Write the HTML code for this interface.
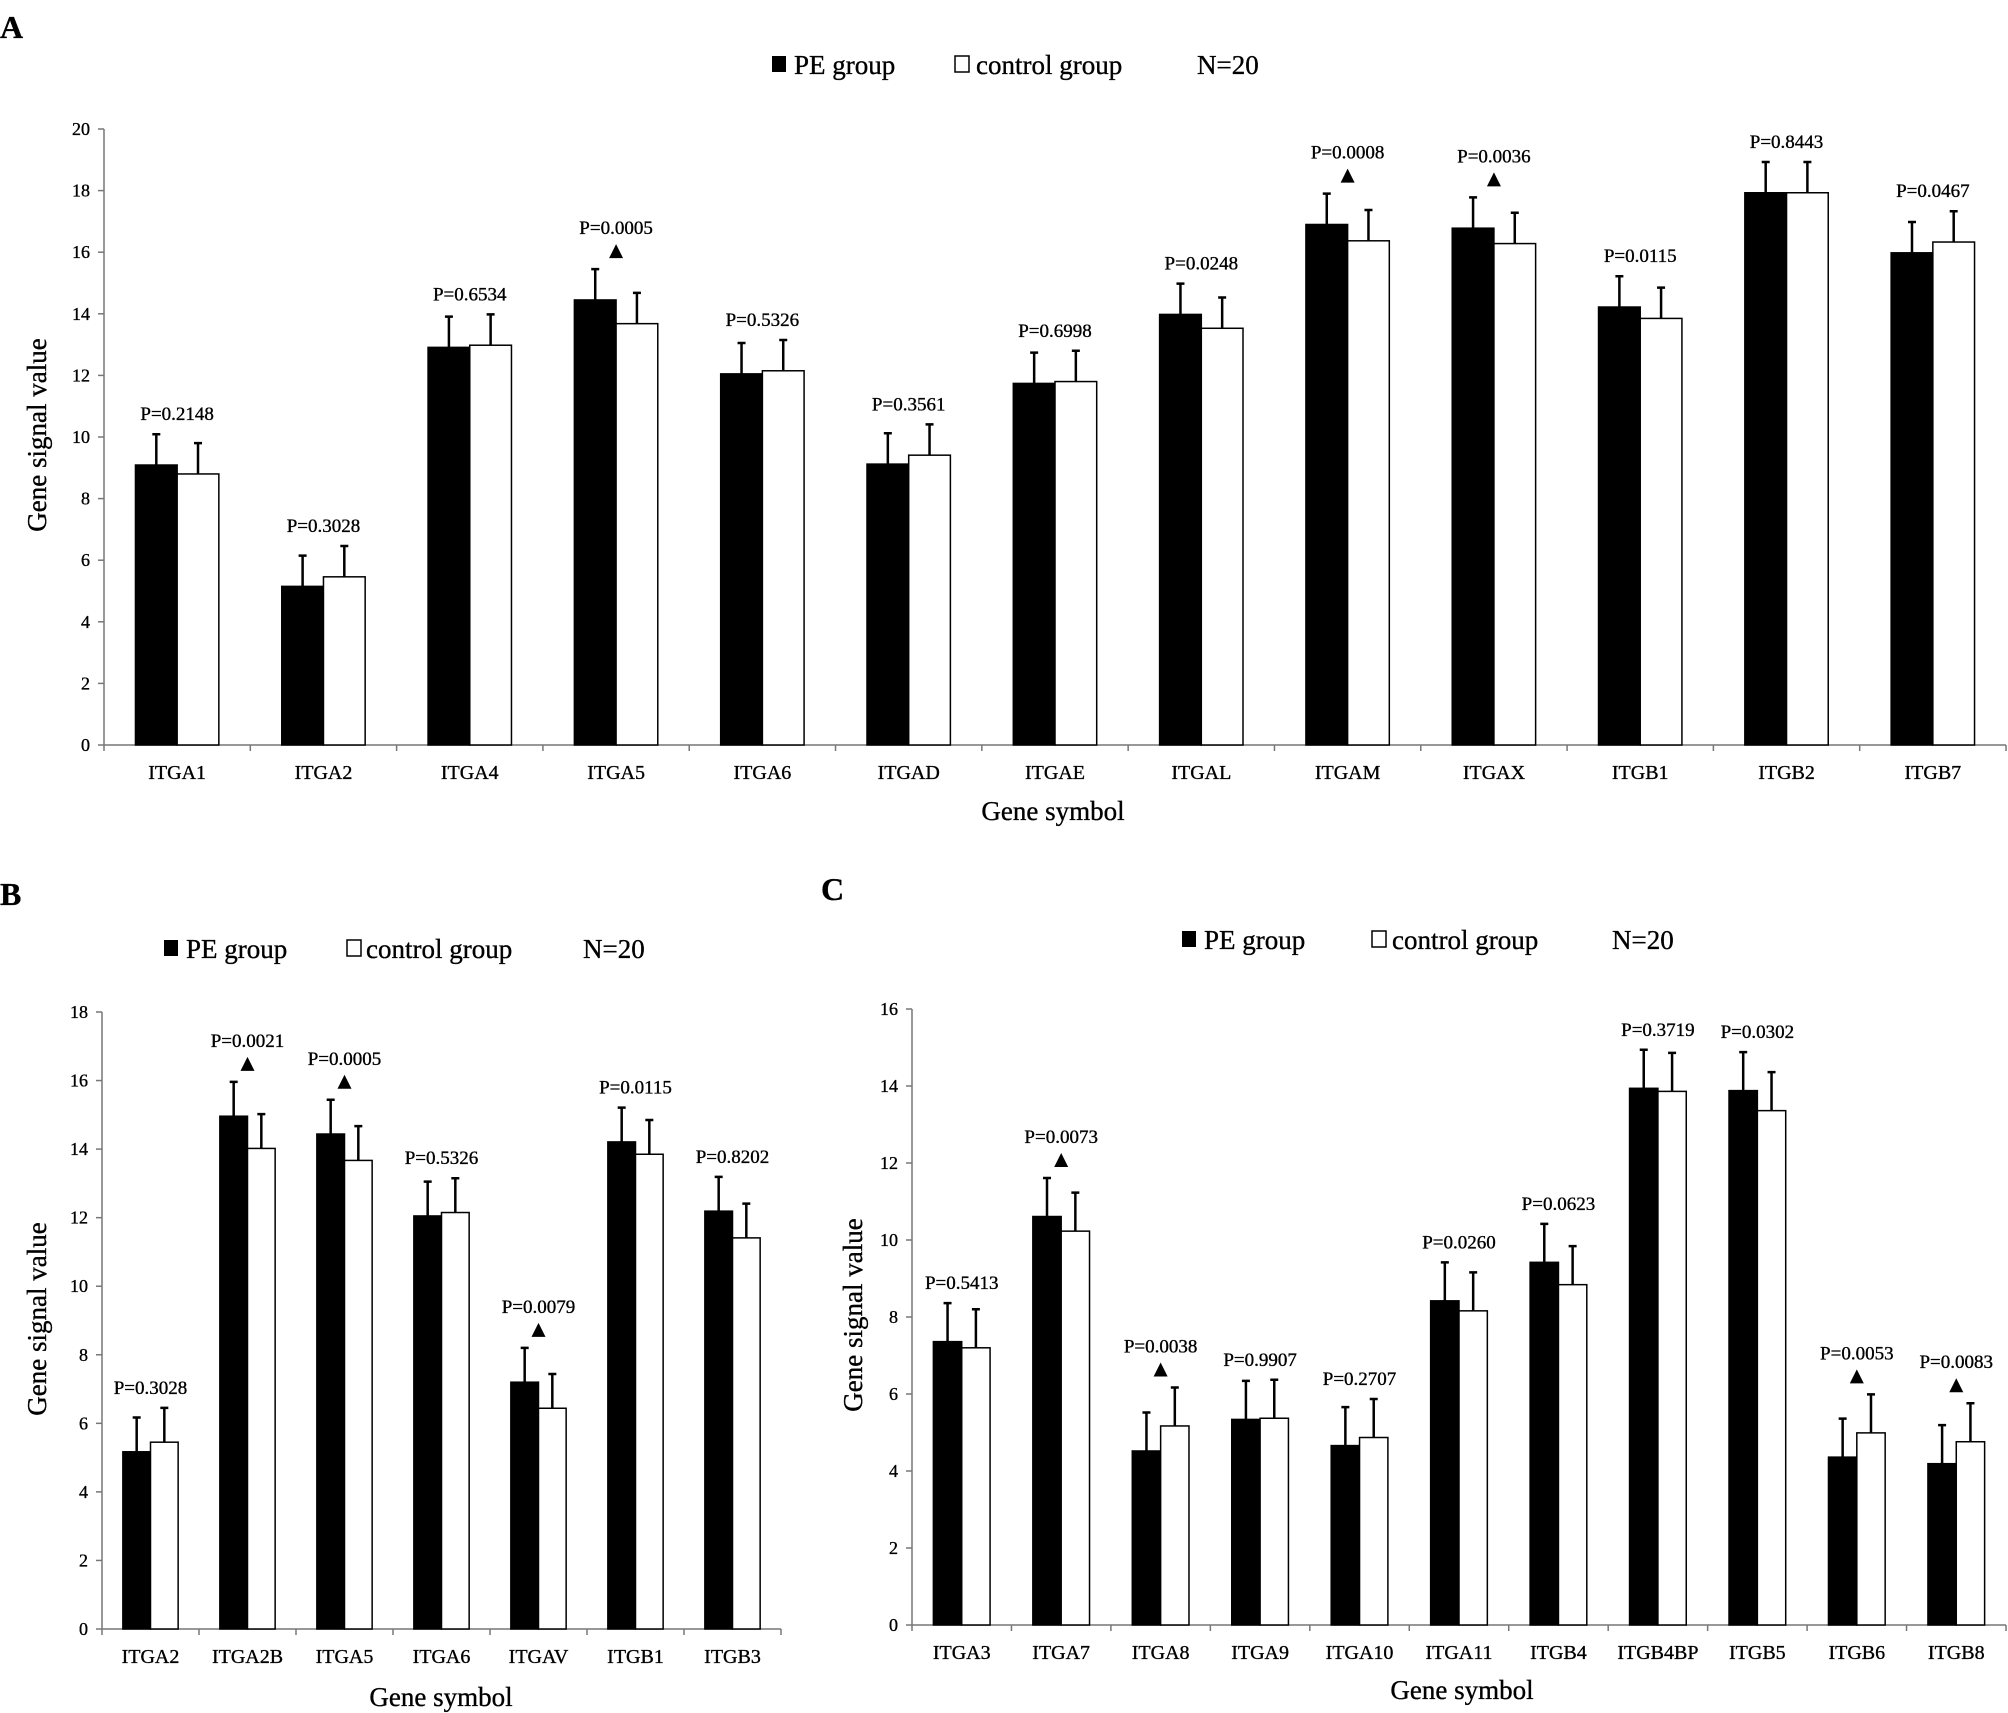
<!DOCTYPE html>
<html><head><meta charset="utf-8">
<style>
html,body{margin:0;padding:0;background:#fff;}
svg{display:block;}
svg text{font-family:"Liberation Serif","DejaVu Serif",serif;stroke:#000;stroke-width:0.35px;}
</style></head>
<body>
<svg id="chart" width="2008" height="1713" viewBox="0 0 2008 1713" xmlns="http://www.w3.org/2000/svg">
<rect x="0" y="0" width="2008" height="1713" fill="#fff"/>
<text x="0" y="38" font-size="32" font-weight="bold">A</text>
<text x="0" y="905" font-size="32" font-weight="bold">B</text>
<text x="821" y="900" font-size="32" font-weight="bold">C</text>
</svg>
<script>
// Panel A data
const catsA = ["ITGA1","ITGA2","ITGA4","ITGA5","ITGA6","ITGAD","ITGAE","ITGAL","ITGAM","ITGAX","ITGB1","ITGB2","ITGB7"];
const peA = [9.09,5.15,12.91,14.45,12.05,9.12,11.74,13.98,16.9,16.78,14.22,17.93,15.98];
const ctrlA = [8.80,5.46,12.98,13.68,12.15,9.41,11.80,13.53,16.37,16.28,13.85,17.93,16.33];
const errPeA = [1,1,1,1,1,1,1,1,1,1,1,1,1];
const errCtrlA = [1,1,1,1,1,1,1,1,1,1,1,1,1];
const pA = ["P=0.2148","P=0.3028","P=0.6534","P=0.0005","P=0.5326","P=0.3561","P=0.6998","P=0.0248","P=0.0008","P=0.0036","P=0.0115","P=0.8443","P=0.0467"];
const sigA = [false,false,false,true,false,false,false,false,true,true,false,false,false];
const ticksA = [0,2,4,6,8,10,12,14,16,18,20];
// Panel B data
const catsB = ["ITGA2","ITGA2B","ITGA5","ITGA6","ITGAV","ITGB1","ITGB3"];
const peB = [5.17,14.96,14.44,12.05,7.20,14.21,12.19];
const ctrlB = [5.45,14.02,13.67,12.15,6.44,13.85,11.41];
const errPeB = [1,1,1,1,1,1,1];
const errCtrlB = [1,1,1,1,1,1,1];
const pB = ["P=0.3028","P=0.0021","P=0.0005","P=0.5326","P=0.0079","P=0.0115","P=0.8202"];
const sigB = [false,true,true,false,true,false,false];
const ticksB = [0,2,4,6,8,10,12,14,16,18];
// Panel C data
const catsC = ["ITGA3","ITGA7","ITGA8","ITGA9","ITGA10","ITGA11","ITGB4","ITGB4BP","ITGB5","ITGB6","ITGB8"];
const peC = [7.36,10.61,4.52,5.34,4.66,8.42,9.42,13.94,13.88,4.36,4.19];
const ctrlC = [7.20,10.23,5.17,5.37,4.87,8.16,8.84,13.86,13.36,4.99,4.76];
const errPeC = [1,1,1,1,1,1,1,1,1,1,1];
const errCtrlC = [1,1,1,1,1,1,1,1,1,1,1];
const pC = ["P=0.5413","P=0.0073","P=0.0038","P=0.9907","P=0.2707","P=0.0260","P=0.0623","P=0.3719","P=0.0302","P=0.0053","P=0.0083"];
const sigC = [false,true,true,false,false,false,false,false,false,true,true];
const ticksC = [0,2,4,6,8,10,12,14,16];

const NS = "http://www.w3.org/2000/svg";
const svg = document.getElementById('chart');
function mk(tag, attrs, parent, txt){
  const e = document.createElementNS(NS, tag);
  for (const k in attrs) e.setAttribute(k, attrs[k]);
  if (txt !== undefined) e.textContent = txt;
  (parent||svg).appendChild(e);
  return e;
}

function panel(id, cfg, cats, pe, ctrl, ePe, eCtrl, pl, sig, ticks){
  const g = mk('g', {});
  
  
  const {x0,x1,y0,yTop,ymax} = cfg;
  const yS = v => y0 - (v/ymax)*(y0-yTop);
  const cw = (x1-x0)/cats.length;
  const bw = cw*0.285;
  const lg = mk('g', {}, g);
  
  
  const ly = cfg.legY;
  const s1 = mk('rect', {x:cfg.leg[0], y:ly-9, width:14, height:16, fill:'#000'}, lg);
  
  
  const t1 = mk('text', {x:cfg.leg[1], y:ly+9, 'font-size':27}, lg, 'PE group');
  
  
  const s2 = mk('rect', {x:cfg.leg[2], y:ly-9, width:14, height:16, fill:'#fff', stroke:'#000', 'stroke-width':1.5}, lg);
  
  
  const t2 = mk('text', {x:cfg.leg[3], y:ly+9, 'font-size':27}, lg, 'control group');
  
  
  const t3 = mk('text', {x:cfg.leg[4], y:ly+9, 'font-size':27}, lg, 'N=20');
  
  
  const ya = mk('line', {x1:x0, y1:yTop, x2:x0, y2:y0, stroke:'#777', 'stroke-width':1.5}, g);
  
  
  const xa = mk('line', {x1:x0, y1:y0, x2:x1, y2:y0, stroke:'#777', 'stroke-width':1.5}, g);
  
  
  ticks.forEach(t => {
    const y = yS(t);
    const tl = mk('line', {x1:x0-6, y1:y, x2:x0, y2:y, stroke:'#777', 'stroke-width':1.5}, g);
    
    
    const tx = mk('text', {x:x0-14, y:y+6, 'font-size':18, 'text-anchor':'end'}, g, String(t));
    
    
  });
  for (let i=0;i<=cats.length;i++){
    const x = x0 + i*cw;
    const tl = mk('line', {x1:x, y1:y0, x2:x, y2:y0+6, stroke:'#777', 'stroke-width':1.5}, g);
    
    
  }
  cats.forEach((c,i) => {
    const cx = x0 + (i+0.5)*cw;
    const vals = [pe[i], ctrl[i]], errs = [ePe[i], eCtrl[i]];
    let topMax = 0;
    vals.forEach((v,j) => {
      const bx = j===0 ? cx-bw : cx;
      const r = mk('rect', {x:bx, y:yS(v), width:bw, height:y0-yS(v), fill:j===0?'#000':'#fff', stroke:'#000', 'stroke-width':1.5}, g);
      
      
      const ex = bx + bw/2, et = yS(v+errs[j]);
      topMax = Math.max(topMax, v+errs[j]);
      const el = mk('path', {d:`M${ex},${yS(v)} V${et} M${ex-4},${et} H${ex+4}`, stroke:'#000', 'stroke-width':2.5, fill:'none'}, g);
      
      
    });
    const ty = yS(topMax);
    let labY = ty - 14;
    if (sig[i]) {
      const tri = mk('path', {d:`M${cx-7},${ty-11} L${cx+7},${ty-11} L${cx},${ty-25} Z`, fill:'#000'}, g);
      
      
      labY = ty - 35;
    }
    const pt = mk('text', {x:cx, y:labY, 'font-size':19, 'text-anchor':'middle'}, g, pl[i]);
    
    
    const cl = mk('text', {x:cx, y:y0+34, 'font-size':20, 'text-anchor':'middle'}, g, c);
    
    
  });
  const xt = mk('text', {x:cfg.xTitle[0], y:cfg.xTitle[1], 'font-size':27, 'text-anchor':'middle'}, g, 'Gene symbol');
  
  
  const yt = mk('text', {x:0, y:0, 'font-size':27, 'text-anchor':'middle', transform:`translate(${cfg.yTitle[0]},${cfg.yTitle[1]}) rotate(-90)`}, g, 'Gene signal value');
  
  
}

panel('a', {x0:104, x1:2006, y0:745, yTop:129, ymax:20, legY:65, leg:[772,794,955,976,1197], xTitle:[1053,820], yTitle:[46,435]},
  catsA, peA, ctrlA, errPeA, errCtrlA, pA, sigA, ticksA);
panel('b', {x0:102, x1:781, y0:1629, yTop:1012, ymax:18, legY:949, leg:[164,186,347,366,583], xTitle:[441,1706], yTitle:[46,1319]},
  catsB, peB, ctrlB, errPeB, errCtrlB, pB, sigB, ticksB);
panel('c', {x0:912, x1:2006, y0:1625, yTop:1009, ymax:16, legY:940, leg:[1182,1204,1372,1392,1612], xTitle:[1462,1699], yTitle:[862,1315]},
  catsC, peC, ctrlC, errPeC, errCtrlC, pC, sigC, ticksC);
</script>
</body></html>
